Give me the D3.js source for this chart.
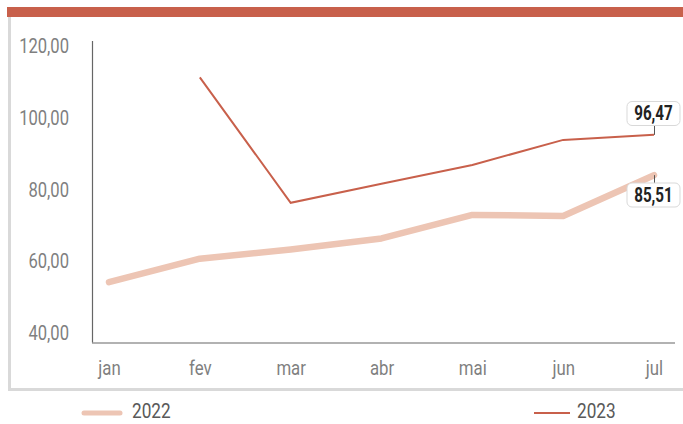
<!DOCTYPE html>
<html><head><meta charset="utf-8">
<script src="https://cdn.jsdelivr.net/npm/d3@7"></script>
<style>
body{margin:0;background:#fff;}
text{font-family:Roboto,"Noto Sans",sans-serif;}
</style></head>
<body><svg id="c" width="683" height="424"></svg>
<script>
const months = ["jan","fev","mar","abr","mai","jun","jul"];
const values2022 = [56.4, 62.8, 65.3, 68.3, 74.7, 74.4, 85.51];
const values2023 = [null, 112.1, 78.0, 83.2, 88.3, 95.1, 96.47];
const yTicks = [40, 60, 80, 100, 120];
const seriesNames = ["2022", "2023"];

const svg = d3.select("#c");
const red = "#c8604b", pale = "#edc5b4";
const fmt = v => d3.format(".2f")(v).replace(".",",");

// horizontally condense text (the reference uses a condensed face)
function condense(sel, f){
  sel.each(function(){
    const t = d3.select(this);
    const x0 = +(t.attr("x") || 0);
    t.attr("x", x0 / f).attr("transform", `scale(${f},1)`);
  });
}

// frame
svg.append("rect").attr("x",7).attr("y",7).attr("width",676).attr("height",10).attr("fill",red);
svg.append("rect").attr("x",8).attr("y",17).attr("width",3).attr("height",374).attr("fill","#d9d9d9");
svg.append("rect").attr("x",8).attr("y",388).attr("width",675).attr("height",3).attr("fill","#d9d9d9");

const x = d3.scalePoint().domain(months).range([109, 654]);
const y = d3.scaleLinear().domain([40, 122]).range([342.5, 41]);
const yLab = d3.scaleLinear().domain([40, 120]).range([332, 45]);

// axis lines
svg.append("line").attr("x1",92.5).attr("x2",92.5).attr("y1",y(122)).attr("y2",y(40)).attr("stroke","#666").attr("stroke-width",1.2);
svg.append("line").attr("x1",92).attr("x2",675).attr("y1",343).attr("y2",343).attr("stroke","#666").attr("stroke-width",1.2);

// y labels
const ya = svg.append("g").attr("transform","translate(69,0)")
  .call(d3.axisLeft(yLab).tickValues(yTicks).tickSize(0).tickFormat(fmt));
ya.select(".domain").remove();
ya.selectAll("text").attr("fill","#7f7f7f").attr("font-size",21).attr("dy","0.36em").attr("x",0);
condense(ya.selectAll("text"), 0.79);

// x labels
const xa = svg.append("g").attr("transform","translate(0,368)")
  .call(d3.axisBottom(x).tickSize(0));
xa.select(".domain").remove();
xa.selectAll("text").attr("fill","#7f7f7f").attr("font-size",21).attr("dy","0.32em").attr("y",0).attr("x",0);
condense(xa.selectAll("text"), 0.8);

const line = d3.line().defined(d => d != null).x((d,i) => x(months[i])).y(d => y(d));
svg.append("path").datum(values2022).attr("d", line).attr("fill","none").attr("stroke",pale).attr("stroke-width",6.5).attr("stroke-linecap","round").attr("stroke-linejoin","round");
svg.append("path").datum(values2023).attr("d", line).attr("fill","none").attr("stroke",red).attr("stroke-width",2);

// data labels
function label(v, above){
  const px = x("jul"), py = y(v);
  const bx = 627, bw = 53, bh = 24;
  const by = above ? 101.5 : 183;
  svg.append("line").attr("x1",px+0.5).attr("x2",px+0.5)
    .attr("y1", above ? by+bh : py).attr("y2", above ? py : by).attr("stroke","#555").attr("stroke-width",1);
  svg.append("rect").attr("x",bx).attr("y",by).attr("width",bw).attr("height",bh).attr("rx",5)
    .attr("fill","#fff").attr("stroke","#d9d9d9").attr("stroke-width",1);
  const t = svg.append("text").attr("x",bx+bw/2).attr("y",by+bh/2).attr("dy","0.35em").attr("text-anchor","middle")
    .attr("font-size",20).attr("font-weight","bold").attr("fill","#222")
    .text(fmt(v));
  condense(t, 0.76);
}
label(values2023[6], true);
label(values2022[6], false);

// legend
const leg = [{name:seriesNames[0], x:84, tx:132, color:pale, w:5},{name:seriesNames[1], x:534, tx:577, color:red, w:2}];
leg.forEach(l => {
  svg.append("line").attr("x1",l.x).attr("x2",l.x+36).attr("y1",413).attr("y2",413)
    .attr("stroke",l.color).attr("stroke-width",l.w).attr("stroke-linecap", l.w>3 ? "round":"butt");
  const t = svg.append("text").attr("x",l.tx).attr("y",418).attr("font-size",21).attr("fill","#595959").text(l.name);
  condense(t, 0.82);
});
</script></body></html>
